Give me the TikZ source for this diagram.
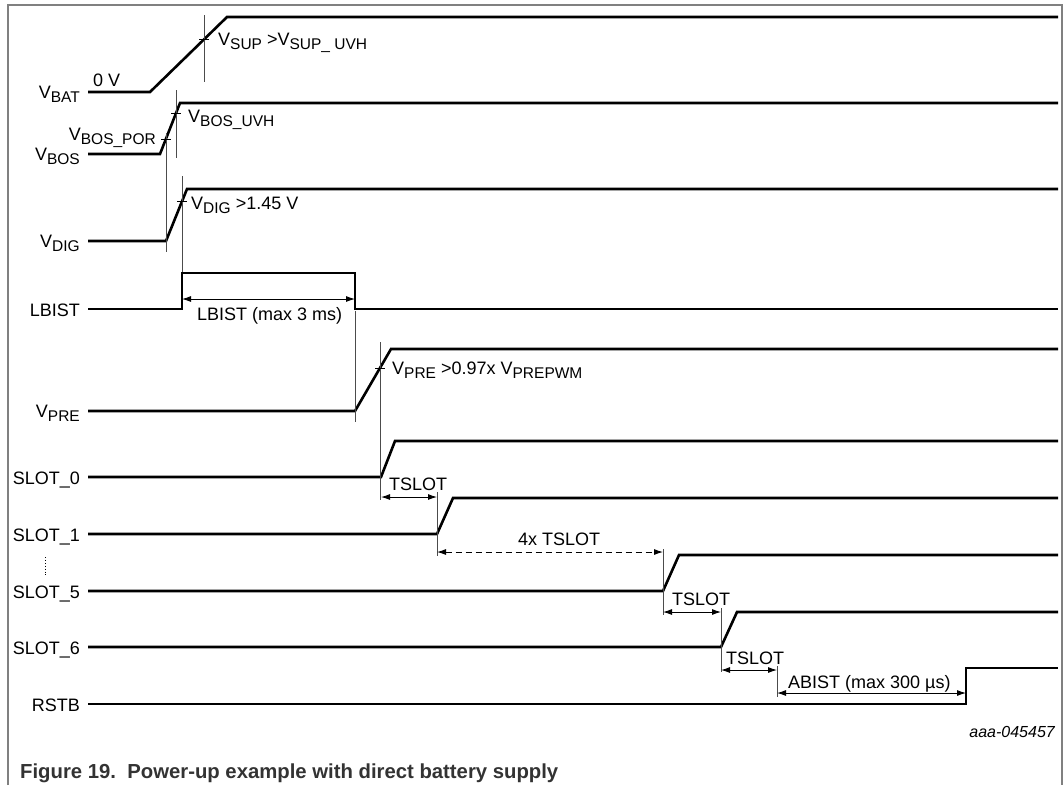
\documentclass[tikz,border=0pt]{standalone}
\usepackage{fontspec}
\setmainfont{Liberation Sans}
\usetikzlibrary{arrows.meta}
\newcommand{\vs}[1]{\raisebox{-4pt}{\fontsize{15.5}{15.5}\selectfont #1}}
\begin{document}
\begin{tikzpicture}[x=1pt,y=-1pt,
  sig/.style={line width=2.6pt, line join=miter},
  thinln/.style={line width=0.9pt, black!70},
  tick/.style={line width=0.9pt, black},
  dim/.style={line width=0.9pt, {Latex[length=9pt,width=6pt]}-{Latex[length=9pt,width=6pt]}},
  lbl/.style={anchor=base east, inner sep=0pt, font=\fontsize{18}{20}\selectfont},
  txt/.style={anchor=base west, inner sep=0pt, font=\fontsize{18}{20}\selectfont},
]
\useasboundingbox (0,0) rectangle (1064,785);
\draw[black!50, line width=1.5pt] (8,785) -- (8,5) -- (1062,5) -- (1062,785);

% signals
\draw[sig] (88,92) -- (150,92) -- (227,17) -- (1058,17);
\draw[sig] (88,154) -- (160,154) -- (180,103) -- (1058,103);
\draw[sig] (88,241) -- (166,241) -- (187,189) -- (1058,189);
\draw[sig] (88,309) -- (182,309) -- (182,273) -- (355,273) -- (355,309) -- (1058,309);
\draw[sig] (88,411) -- (355,411) -- (391,349) -- (1058,349);
\draw[sig] (88,477) -- (381,477) -- (395,441) -- (1058,441);
\draw[sig] (88,534) -- (437,534) -- (453,498) -- (1058,498);
\draw[sig] (88,591) -- (663,591) -- (679,555) -- (1058,555);
\draw[sig] (88,647) -- (721,647) -- (737,612) -- (1058,612);
\draw[sig] (88,704) -- (966,704) -- (966,668) -- (1058,668);

% signal names
\node[lbl] (nbat) at (80,98) {V\vs{BAT}};
\node[lbl] (nbos) at (80,160) {V\vs{BOS}};
\node[lbl] (ndig) at (80,247) {V\vs{DIG}};
\node[lbl] (nlbist) at (80,316) {LBIST};
\node[lbl] (npre) at (80,417) {V\vs{PRE}};
\node[lbl] (ns0) at (80,484) {SLOT\_0};
\node[lbl] (ns1) at (80,541) {SLOT\_1};
\node[lbl] (ns5) at (80,598) {SLOT\_5};
\node[lbl] (ns6) at (80,654) {SLOT\_6};
\node[lbl] (nrstb) at (80,711) {RSTB};
\coordinate (d1) at (45,557);
\coordinate (d2) at (45,576);
\draw[dotted, line width=0.9pt] (d1) -- (d2);

% thresholds
\draw[thinln] (204,15) -- (204,82);
\draw[tick] (199,39) -- (209,39);
\node[txt] (lsup) at (218,45) {V\vs{SUP} >V\vs{SUP\_ UVH}};
\node[txt] (l0v) at (93,86) {0 V};

\draw[thinln] (176,90) -- (176,158);
\draw[tick] (171,113) -- (181,113);
\node[txt] (luvh) at (188,122) {V\vs{BOS\_UVH}};

\draw[thinln] (166,133) -- (166,252);
\draw[tick] (161,139) -- (171,139);
\node[lbl] (lpor) at (156,140) {V\vs{BOS\_POR}};

\draw[thinln] (182,176) -- (182,272);
\draw[tick] (177,201) -- (187,201);
\node[txt] (ldig) at (191,209) {V\vs{DIG} >1.45 V};

% LBIST
\draw[dim] (182,299) -- (355,299);
\node[txt] (llb) at (197,320) {LBIST (max 3 ms)};
\draw[thinln] (355,311) -- (355,422);

% VPRE
\draw[thinln] (380,342) -- (380,500);
\draw[tick] (375,368) -- (385,368);
\node[txt] (lpre) at (392,374) {V\vs{PRE} >0.97x V\vs{PREPWM}};

% slots
\draw[dim] (381,497) -- (437,497);
\node[txt] (lt0) at (389,490) {TSLOT};
\draw[thinln] (437,492) -- (437,556);
\draw[dim, dashed, dash pattern=on 6pt off 4pt] (437,552) -- (663,552);
\node[txt] (lt4) at (518,545) {4x TSLOT};
\draw[thinln] (663,549) -- (663,615);
\draw[dim] (663,612) -- (721,612);
\node[txt] (lt5) at (672,605) {TSLOT};
\draw[thinln] (721,608) -- (721,672);
\draw[dim] (721,670) -- (777,670);
\node[txt] (lt6) at (726,664) {TSLOT};
\draw[thinln] (777,666) -- (777,697);
\draw[dim] (777,693) -- (966,693);
\node[txt] (lab) at (788,688) {ABIST (max 300 µs)};

\node[anchor=base east, inner sep=0pt, font=\fontsize{16}{18}\selectfont\itshape] (code) at (1055,737) {aaa-045457};
\node[anchor=base west, inner sep=0pt, font=\fontsize{20.3}{24}\selectfont\bfseries, text=black!80] (cap) at (20,778) {Figure 19.\ \ Power-up example with direct battery supply};
\end{tikzpicture}
\end{document}
